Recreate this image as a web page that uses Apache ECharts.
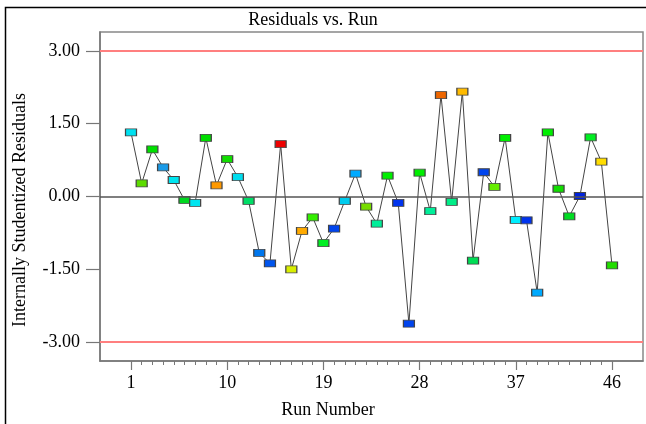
<!DOCTYPE html>
<html>
<head>
<meta charset="utf-8">
<script src="https://cdn.jsdelivr.net/npm/echarts@6/dist/echarts.min.js"></script>
<style>
  html, body { margin: 0; padding: 0; background: #fff; }
  #chart { width: 646px; height: 424px; }
</style>
</head>
<body>
<div id="chart"></div>
<script>
const runNumbers = [
  1, 2, 3, 4, 5, 6, 7, 8, 9, 10, 11, 12, 13, 14, 15, 16, 17, 18, 19, 20, 21, 22, 23,
  24, 25, 26, 27, 28, 29, 30, 31, 32, 33, 34, 35, 36, 37, 38, 39, 40, 41, 42, 43, 44, 45, 46,
];
const residuals = [
  1.32, 0.27, 0.97, 0.60, 0.34, -0.07, -0.13, 1.21, 0.23, 0.77, 0.40, -0.09, -1.16, -1.38, 1.08, -1.50,
  -0.71, -0.43, -0.96, -0.66, -0.09, 0.47, -0.21, -0.56, 0.43, -0.13, -2.62, 0.49, -0.30, 2.09, -0.11,
  2.16, -1.32, 0.50, 0.20, 1.21, -0.48, -0.49, -1.98, 1.32, 0.16, -0.41, 0.01, 1.22, 0.72, -1.42,
];
const markerColors = [
  "#00e0f0", "#5ddc00", "#00e000", "#1a9be8", "#00e5f0", "#00d820", "#00e5f0", "#00dd00", "#ff9900",
  "#11dd00", "#00ddee", "#00dd66", "#0077ee", "#0055ee", "#ee0000", "#d8ee00", "#ffaa00", "#33ee00",
  "#00ee22", "#0044ee", "#00ccee", "#00aaff", "#77dd00", "#00ee99", "#00ee00", "#0033ee", "#0044ee",
  "#00ee00", "#00ee99", "#ee6600", "#00ee88", "#ffbb00", "#00dd55", "#0044ee", "#66ee00", "#00ee00",
  "#00eeff", "#0033ee", "#00aaff", "#00ee00", "#11dd00", "#00dd22", "#0022dd", "#00ee22", "#ffdd00",
  "#22dd00",
];
const xMajorTicks = [1, 10, 19, 28, 37, 46];
const yTicks = [-3, -1.5, 0, 1.5, 3];
const limitLines = [3, -3];

const xMinorTicks = runNumbers.filter((run) => !xMajorTicks.includes(run));
const font = "'Liberation Serif', 'DejaVu Serif', serif";
const chart = echarts.init(document.getElementById("chart"), null, { renderer: "canvas" });

const xRange = { min: -1.9, max: 48.9 };

chart.setOption({
  animation: false,
  grid: {
    left: 100, top: 32, right: 3, bottom: 63,
    show: true, borderColor: "#888", borderWidth: 1.5, backgroundColor: "transparent",
  },
  xAxis: [
    {
      type: "value",
      ...xRange,
      axisLine: { onZero: false, lineStyle: { color: "#777", width: 1.5 } },
      axisTick: { customValues: xMajorTicks, length: 9, lineStyle: { color: "#777", width: 1.2 } },
      axisLabel: { customValues: xMajorTicks, margin: 13, color: "#000", fontFamily: font, fontSize: 18 },
      splitLine: { show: false },
    },
    {
      type: "value",
      ...xRange,
      position: "bottom",
      axisLine: { show: false, onZero: false },
      axisTick: { show: true, customValues: xMinorTicks, length: 4, lineStyle: { color: "#777", width: 1 } },
      axisLabel: { show: false, customValues: xMinorTicks },
      splitLine: { show: false },
    },
  ],
  yAxis: {
    type: "value",
    min: -3.39,
    max: 3.39,
    axisLine: { show: true, onZero: false, lineStyle: { color: "#777", width: 1.5 } },
    axisTick: { show: true, customValues: yTicks, length: 14, lineStyle: { color: "#777", width: 1.2 } },
    axisLabel: {
      customValues: yTicks, margin: 20, color: "#000", fontFamily: font, fontSize: 18,
      formatter: (value) => value.toFixed(2),
    },
    splitLine: { show: false },
  },
  graphic: [
    {
      type: "rect", silent: true, z: -1,
      shape: { x: 5.5, y: 7.5, width: 700, height: 500 },
      style: { fill: "none", stroke: "#000", lineWidth: 1.5 },
    },
    {
      type: "text", x: 313, y: 20,
      style: { text: "Residuals vs. Run", font: "18px " + font, fill: "#000", align: "center", verticalAlign: "middle" },
    },
    {
      type: "text", x: 328, y: 410,
      style: { text: "Run Number", font: "18px " + font, fill: "#000", align: "center", verticalAlign: "middle" },
    },
    {
      type: "text", x: 20, y: 210, rotation: Math.PI / 2,
      style: { text: "Internally Studentized Residuals", font: "18px " + font, fill: "#000", align: "center", verticalAlign: "middle" },
    },
  ],
  series: [
    {
      type: "line",
      xAxisIndex: 0,
      data: residuals.map((value, i) => ({
        value: [runNumbers[i], value],
        itemStyle: { color: markerColors[i] },
      })),
      symbol: "rect",
      symbolSize: [11, 7],
      showAllSymbol: true,
      lineStyle: { color: "#444", width: 1 },
      itemStyle: { borderColor: "#444", borderWidth: 1 },
      z: 3,
      markLine: {
        silent: true,
        symbol: "none",
        label: { show: false },
        data: [
          ...limitLines.map((y) => ({ yAxis: y, lineStyle: { color: "#ff7f7f", width: 1.8, type: "solid" } })),
          { yAxis: 0, lineStyle: { color: "#555", width: 1.5, type: "solid" } },
        ],
      },
    },
  ],
});
</script>
</body>
</html>
